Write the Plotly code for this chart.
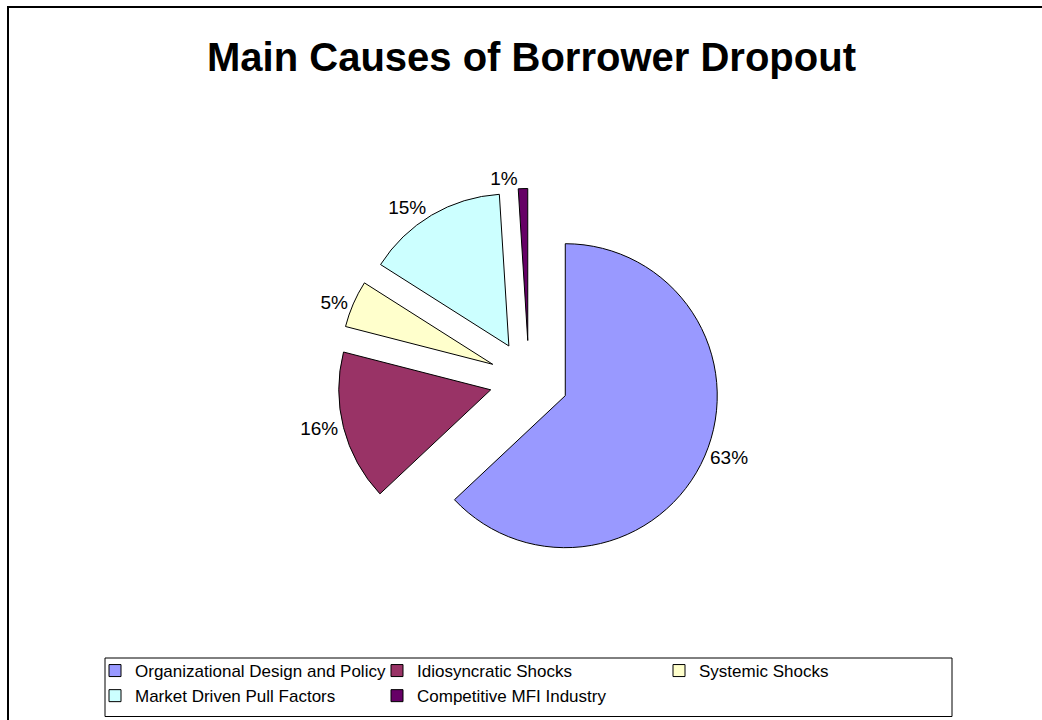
import plotly.graph_objects as go

categories = ["Organizational Design and Policy", "Idiosyncratic Shocks", "Systemic Shocks",
              "Market Driven Pull Factors", "Competitive MFI Industry"]
shares = [63, 16, 5, 15, 1]
slice_colors = ["#9999FF", "#993366", "#FFFFCC", "#CCFFFF", "#660066"]
pull_amount = [0.26, 0.26, 0.26, 0.26, 0.26]

FONT = "Arial, Liberation Sans, sans-serif"
W, H = 1042, 720

fig = go.Figure()
fig.add_trace(go.Pie(
    labels=categories,
    values=shares,
    sort=False,
    direction="clockwise",
    rotation=0,
    pull=pull_amount,
    marker=dict(colors=slice_colors, line=dict(color="#000000", width=1)),
    textinfo="percent",
    textposition="outside",
    outsidetextfont=dict(family=FONT, size=19, color="#000000"),
    domain=dict(x=[337.5 / W, 720.5 / W], y=[1 - 571.5 / H, 1 - 188.5 / H]),
    hoverinfo="label+percent",
))

fig.update_layout(
    width=W, height=H,
    margin=dict(l=0, r=0, t=0, b=0),
    paper_bgcolor="white",
    plot_bgcolor="white",
    font=dict(family=FONT, color="#000000"),
    title=dict(text="<b>Main Causes of Borrower Dropout</b>",
               font=dict(family=FONT, size=40, color="#000000"),
               x=531.5 / W, xanchor="center",
               y=1 - 57 / H, yanchor="middle", yref="container"),
    showlegend=True,
    legend=dict(orientation="h", x=95 / W, xanchor="left",
                y=1 - 714 / H, yanchor="bottom",
                font=dict(family=FONT, size=17, color="#000000"),
                borderwidth=0, bgcolor="rgba(0,0,0,0)",
                entrywidth=237, entrywidthmode="pixels",
                traceorder="normal"),
    shapes=[
        dict(type="rect", xref="paper", yref="paper",
             x0=8 / W, x1=1.05, y0=-0.05, y1=1 - 7 / H,
             line=dict(color="#000000", width=2), layer="below"),
        dict(type="rect", xref="paper", yref="paper",
             x0=105 / W, x1=952 / W, y0=1 - 716.5 / H, y1=1 - 658 / H,
             line=dict(color="#000000", width=1), layer="below"),
    ],
)

fig.write_html("out.html", config={"displayModeBar": False},
               post_script="document.body.style.margin='0';")
